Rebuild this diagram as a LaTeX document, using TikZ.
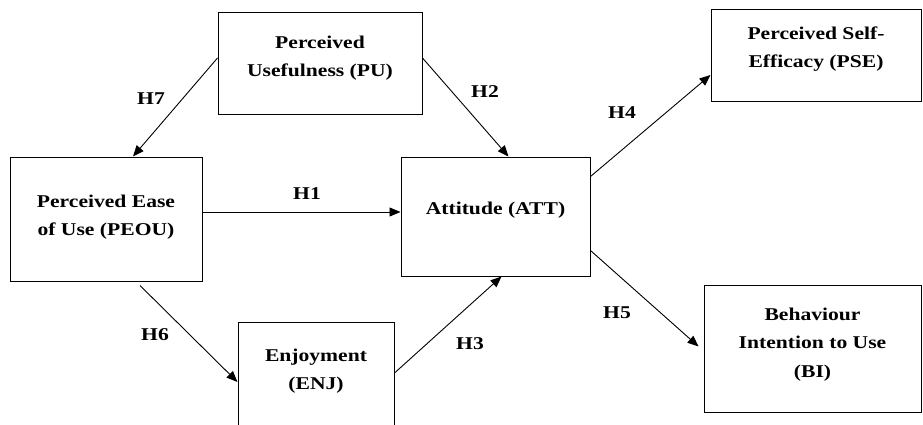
\documentclass[tikz,border=0pt]{standalone}
\usepackage{fontspec}
\setmainfont{Liberation Serif}[FakeStretch=1.2]
\usetikzlibrary{arrows.meta}
\newcommand{\intobox}[4][12pt]{\parbox[c][#2][c]{#3}{\centering #4\par\vspace*{#1}}}
\begin{document}
\begin{tikzpicture}[x=1pt, y=-1pt,
  font=\fontsize{18}{28.5}\selectfont\bfseries,
  concept/.style={draw, line width=1pt, inner sep=0pt},
  hyp/.style={inner sep=0pt},
  hyparrow/.style={-{Triangle[length=11pt,width=9pt]}, line width=0.9pt}]
\useasboundingbox (0,0) rectangle (923,425);
\clip (0,0) rectangle (923,425);
\node[concept] (pu) at (320,64) {\intobox{102pt}{204pt}{Perceived\\Usefulness (PU)}};
\node[concept] (peou) at (106,219) {\intobox[4pt]{124pt}{192pt}{Perceived Ease\\of Use (PEOU)}};
\node[concept] (att) at (495.5,216.5) {\intobox{119pt}{189pt}{Attitude (ATT)}};
\node[concept] (pse) at (816,56) {\intobox[14pt]{92pt}{210pt}{Perceived Self-\\Efficacy (PSE)}};
\node[concept] (bi) at (812.5,348.5) {\intobox[8pt]{127pt}{217pt}{Behaviour\\Intention to Use\\(BI)}};
\node[concept] (enj) at (316,375) {\intobox[8pt]{106pt}{156pt}{Enjoyment\\(ENJ)}};
\node[hyp] (h1) at (307,194) {H1};
\node[hyp] (h2) at (485,92) {H2};
\node[hyp] (h3) at (470,344) {H3};
\node[hyp] (h4) at (622,113) {H4};
\node[hyp] (h5) at (617,313) {H5};
\node[hyp] (h6) at (155,335) {H6};
\node[hyp] (h7) at (151,99) {H7};
\draw[hyparrow] ([yshift=7pt]peou.east) to ([yshift=7pt]peou.east -| att.west);
\draw[hyparrow] ([yshift=6pt]pu.east) to ([xshift=13pt]att.north);
\draw[hyparrow] ([yshift=2pt]enj.east) to ([xshift=6pt]att.south);
\draw[hyparrow] ([yshift=-20pt]att.north east) to ([yshift=-19pt]pse.west);
\draw[hyparrow] ([yshift=26pt]att.south east) to ([xshift=-5pt,yshift=2pt]bi.west);
\draw[hyparrow] ([xshift=34pt,yshift=-4pt]peou.south) to ([yshift=-7pt]enj.west);
\draw[hyparrow] ([yshift=6pt]pu.west) to ([xshift=27pt]peou.north);
\end{tikzpicture}
\end{document}
